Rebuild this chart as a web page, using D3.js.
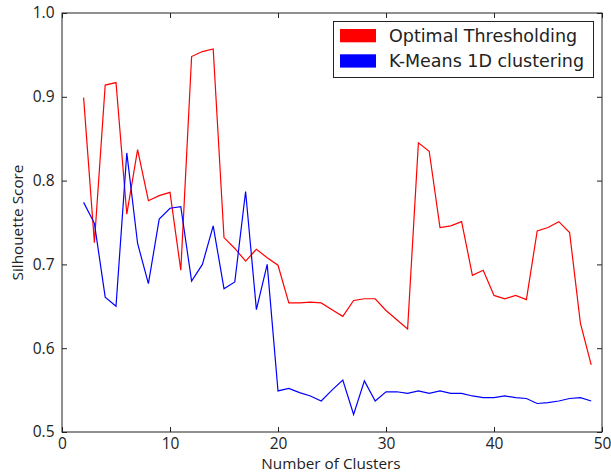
<!DOCTYPE html>
<html><head><meta charset="utf-8">
<script src="https://cdn.jsdelivr.net/npm/d3@7"></script>
<style>body{margin:0;background:#fff;} svg{display:block;}</style>
</head><body><svg id="c" width="611" height="473"></svg>
<script>
const clusters = d3.range(2, 50);
const optimalThresholding = [0.899,0.726,0.914,0.917,0.760,0.837,0.776,0.782,0.786,0.693,0.948,0.954,0.957,0.732,0.719,0.704,0.718,0.708,0.699,0.654,0.654,0.655,0.654,0.646,0.638,0.657,0.659,0.659,0.645,0.634,0.623,0.845,0.835,0.744,0.746,0.751,0.687,0.693,0.663,0.659,0.663,0.658,0.740,0.744,0.751,0.738,0.630,0.580];
const kmeans1D = [0.774,0.749,0.661,0.650,0.833,0.725,0.677,0.754,0.767,0.769,0.680,0.700,0.746,0.671,0.679,0.787,0.646,0.700,0.549,0.552,0.547,0.543,0.537,0.550,0.562,0.521,0.561,0.537,0.548,0.548,0.546,0.549,0.546,0.549,0.546,0.546,0.543,0.541,0.541,0.543,0.541,0.540,0.534,0.535,0.537,0.540,0.541,0.537];
const xTicks = [0,10,20,30,40,50];
const yTicks = [0.5,0.6,0.7,0.8,0.9,1.0];
const seriesNames = ["Optimal Thresholding","K-Means 1D clustering"];
const seriesColors = ["#ff0000","#0000ff"];

const svg = d3.select("#c");
const L=62,R=602,T=13,B=432;
const x = d3.scaleLinear().domain([0,50]).range([L,R]);
const y = d3.scaleLinear().domain([0.5,1.0]).range([B,T]);

const line = d3.line().x((d,i)=>x(clusters[i])).y(d=>y(d));
[optimalThresholding,kmeans1D].forEach((s,i)=>{
  svg.append("path").attr("d",line(s)).attr("fill","none")
    .attr("stroke",seriesColors[i]).attr("stroke-width",1.2).attr("stroke-linejoin","miter");
});

// frame
svg.append("rect").attr("x",L).attr("y",T).attr("width",R-L).attr("height",B-T)
  .attr("fill","none").attr("stroke","#222").attr("stroke-width",1);

// axes with inward ticks
const fmtY = d3.format(".1f");
const gBottom = svg.append("g").attr("transform",`translate(0,${B})`)
  .call(d3.axisBottom(x).tickValues(xTicks).tickSizeInner(-5).tickSizeOuter(0).tickPadding(6).tickFormat(d3.format("d")));
const gTop = svg.append("g").attr("transform",`translate(0,${T})`)
  .call(d3.axisTop(x).tickValues(xTicks).tickSizeInner(-5).tickSizeOuter(0).tickFormat(""));
const gLeft = svg.append("g").attr("transform",`translate(${L},0)`)
  .call(d3.axisLeft(y).tickValues(yTicks).tickSizeInner(-5).tickSizeOuter(0).tickPadding(7.5).tickFormat(fmtY));
const gRight = svg.append("g").attr("transform",`translate(${R},0)`)
  .call(d3.axisRight(y).tickValues(yTicks).tickSizeInner(-5).tickSizeOuter(0).tickFormat(""));
[gBottom,gTop,gLeft,gRight].forEach(g=>{
  g.select(".domain").remove();
  g.selectAll(".tick line").attr("stroke","#222");
  g.selectAll("text").style("font-size","15.5px").style("font-family","'Open Sans'").style("fill","#222");
});

svg.append("text").attr("x",(L+R)/2 - 1).attr("y",469).attr("text-anchor","middle")
  .style("font-size","15.3px").style("font-family","'Open Sans'").style("fill","#222").text("Number of Clusters");
svg.append("text").attr("transform",`translate(23,${(T+B)/2}) rotate(-90)`).attr("text-anchor","middle")
  .style("font-size","15.3px").style("font-family","'Open Sans'").style("fill","#222").text("Silhouette Score");

// legend
const lg = svg.append("g");
lg.append("rect").attr("x",333.5).attr("y",21.5).attr("width",260).attr("height",56)
  .attr("fill","#fff").attr("stroke","#222").attr("stroke-width",1);
seriesNames.forEach((n,i)=>{
  lg.append("rect").attr("x",340).attr("y",29+i*25.3).attr("width",36).attr("height",13.3).attr("fill",seriesColors[i]);
  lg.append("text").attr("x",389).attr("y",41.5+i*25.3)
    .style("font-size","17.5px").style("font-family","'DejaVu Sans'").style("fill","#222").text(n);
});
</script></body></html>
